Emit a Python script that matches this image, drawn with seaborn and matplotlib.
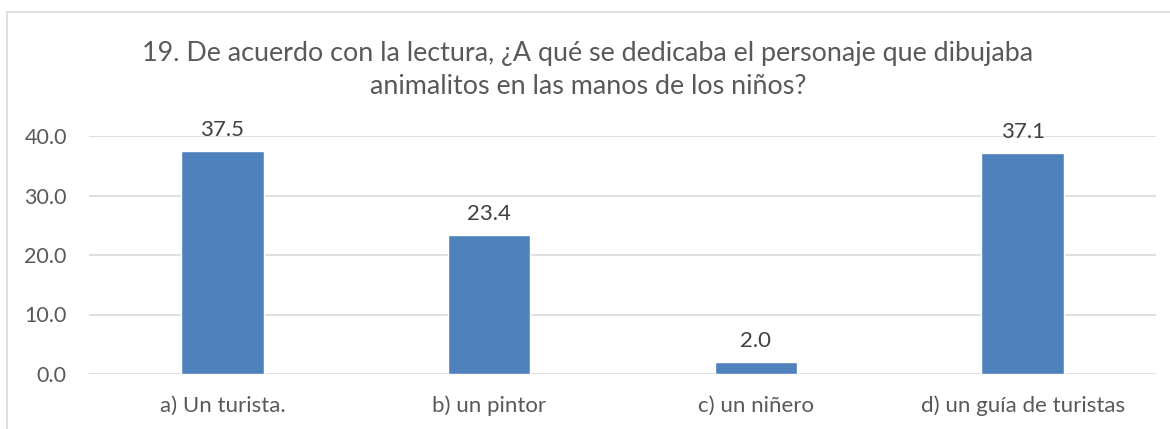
import matplotlib
matplotlib.use("Agg")
import matplotlib.pyplot as plt
import seaborn as sns
import pandas as pd
from matplotlib.patches import Rectangle

categories = ["a) Un turista.", "b) un pintor", "c) un niñero", "d) un guía de turistas"]
values = [37.5, 23.4, 2.0, 37.1]
y_ticks = [0, 10, 20, 30, 40]
title = "19. De acuerdo con la lectura, ¿A qué se dedicaba el personaje que dibujaba\nanimalitos en las manos de los niños?"

sns.set_theme(style="white")
plt.rcParams['font.family'] = ['Lato', 'DejaVu Sans']

W, H = 1170, 429
fig = plt.figure(figsize=(W / 100, H / 100), dpi=100)
ax = fig.add_axes([89 / W, 1 - 374 / H, (1156 - 89) / W, (374 - 136) / H])

df = pd.DataFrame({"cat": categories, "val": values})
sns.barplot(data=df, x="cat", y="val", color="#4F81BD", saturation=1, width=0.31, ax=ax)

ax.set_ylim(0, 40)
ax.set_xlim(-0.5, 3.5)
ax.set_yticks(y_ticks)
ax.set_yticklabels([f"{t:.1f}" for t in y_ticks])
ax.yaxis.grid(True, color="#D9D9D9", linewidth=1.2)
ax.set_axisbelow(True)
for s in ax.spines.values():
    s.set_visible(False)
ax.set_xlabel("")
ax.set_ylabel("")
ax.tick_params(axis="y", length=0, pad=16, labelsize=15.5, labelcolor="#595959")
ax.tick_params(axis="x", length=0, pad=15.5, labelsize=16, labelcolor="#595959")

for c in ax.containers:
    ax.bar_label(c, labels=[f"{v:.1f}" for v in c.datavalues], padding=8,
                 fontsize=16, color="#404040")

fig.text(588 / W, 1 - 70 / H, title, ha="center", va="center", fontsize=19.4,
         color="#595959", linespacing=1.45)

fig.patches.append(Rectangle((7 / W, -0.1), 1.2, 1 - 12 / H + 0.1, transform=fig.transFigure,
                             fill=False, edgecolor="#D9D9D9", linewidth=1.2))

fig.savefig("out.png", dpi=100, facecolor="white")
